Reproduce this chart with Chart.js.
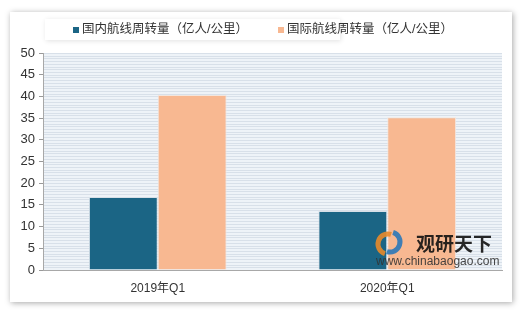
<!DOCTYPE html>
<html><head><meta charset="utf-8">
<script src="https://cdn.jsdelivr.net/npm/chart.js@4.4.0/dist/chart.umd.min.js"></script>
<style>html,body{margin:0;padding:0;background:#fff}#wrap{width:520px;height:314px}</style>
</head><body><div id="wrap"><canvas id="c" width="520" height="314"></canvas></div>
<script>
const categories = ['2019年Q1', '2020年Q1'];
const domestic = [16.8, 13.6];
const international = [40.3, 35.2];
const seriesNames = ['国内航线周转量（亿人/公里）', '国际航线周转量（亿人/公里）'];
const yMax = 50, yStep = 5;

const FONT = "'Liberation Sans', Arial, 'Noto Sans CJK SC', sans-serif";

const bgPlugin = {
  id: 'bg',
  beforeDraw(chart) {
    const ctx = chart.ctx, a = chart.chartArea;
    ctx.save();
    ctx.fillStyle = '#ffffff';
    ctx.shadowColor = 'rgba(0,0,0,0.35)';
    ctx.shadowBlur = 6;
    ctx.shadowOffsetX = 1; ctx.shadowOffsetY = 1;
    ctx.fillRect(10, 12, 502, 290);
    ctx.shadowColor = 'rgba(0,0,0,0.12)';
    ctx.shadowBlur = 5;
    ctx.fillRect(45, 19, 295, 21);
    ctx.shadowColor = 'transparent';
    ctx.fillStyle = '#eef3f8';
    ctx.fillRect(a.left, a.top, a.right - a.left, a.bottom - a.top);
    ctx.strokeStyle = '#d8e0e9';
    ctx.lineWidth = 1;
    const ys = chart.scales.y;
    const px = (ys.getPixelForValue(0) - ys.getPixelForValue(yMax)) / 80;
    for (let i = 0; i <= 80; i++) {
      const y = Math.round(a.top + i * px) + 0.5;
      ctx.beginPath(); ctx.moveTo(a.left, y); ctx.lineTo(a.right, y); ctx.stroke();
    }
    ctx.restore();
  },
  afterDraw(chart) {
    const ctx = chart.ctx;
    ctx.save();
    const xs = [73, 278];
    ctx.font = "12.5px " + FONT;
    ctx.textBaseline = 'middle';
    chart.data.datasets.forEach((ds, i) => {
      ctx.fillStyle = ds.backgroundColor;
      ctx.fillRect(xs[i], 27, 6, 6);
      ctx.fillStyle = '#333';
      ctx.fillText(ds.label, xs[i] + 9, 30);
    });
    ctx.globalAlpha = 0.9;
    ctx.lineWidth = 5;
    ctx.beginPath(); ctx.arc(388, 244, 10, Math.PI * 0.6, Math.PI * 1.6); ctx.strokeStyle = '#e8892a'; ctx.stroke();
    ctx.beginPath(); ctx.arc(390, 242, 10, Math.PI * 1.6, Math.PI * 2.6); ctx.strokeStyle = '#2b78b8'; ctx.stroke();
    ctx.fillStyle = '#111';
    ctx.font = "bold 19px 'Noto Sans CJK SC', sans-serif";
    ctx.fillText('观研天下', 416, 244);
    ctx.fillStyle = '#333';
    ctx.font = "12px " + FONT;
    ctx.fillText('www.chinabaogao.com', 376, 262);
    ctx.restore();
  }
};

new Chart(document.getElementById('c'), {
  type: 'bar',
  data: {
    labels: categories,
    datasets: [
      { label: seriesNames[0], data: domestic, backgroundColor: '#1b6585', borderColor: '#d7e0e8', borderWidth: 1, borderSkipped: 'bottom' },
      { label: seriesNames[1], data: international, backgroundColor: '#f8b891', borderColor: '#f3e6de', borderWidth: 1, borderSkipped: 'bottom' }
    ]
  },
  options: {
    responsive: false,
    animation: false,
    devicePixelRatio: 1,
    layout: { padding: { left: 10, right: 18, top: 53, bottom: 14 } },
    datasets: { bar: { categoryPercentage: 0.6, barPercentage: 1.0 } },
    plugins: {
      legend: { display: false },
      tooltip: { enabled: false }
    },
    scales: {
      x: {
        grid: { display: false },
        border: { display: true, color: '#a8a8a8', width: 1 },
        ticks: { color: '#333', font: { family: FONT, size: 12 }, padding: 3 },
        afterFit(s) { s.height = 30; }
      },
      y: {
        min: 0, max: yMax,
        ticks: { stepSize: yStep, color: '#333', font: { family: FONT, size: 13 }, padding: 4 },
        grid: { drawOnChartArea: false, drawTicks: true, tickLength: 4, color: '#999' },
        border: { display: true, color: '#a8a8a8', width: 1 },
        afterFit(s) { s.width = 33; }
      }
    }
  },
  plugins: [bgPlugin]
});
</script></body></html>
